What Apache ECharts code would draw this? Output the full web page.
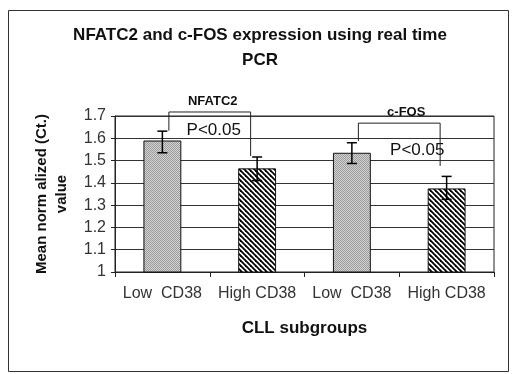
<!DOCTYPE html>
<html>
<head>
<meta charset="UTF-8"/>
<script src="https://cdn.jsdelivr.net/npm/echarts@6/dist/echarts.min.js"></script>
<style>
  html, body { margin: 0; padding: 0; background: #fff; }
  #main { width: 520px; height: 374px; }
</style>
</head>
<body>
<div id="main"></div>
<script type="text/javascript">
    // data
    var categories = ['Low  CD38', 'High CD38', 'Low  CD38', 'High CD38'];
    var meanValues = [1.59, 1.465, 1.535, 1.375];
    var errLow = [1.535, 1.41, 1.487, 1.326];
    var errHigh = [1.632, 1.516, 1.58, 1.429];
    var yTicks = [1, 1.1, 1.2, 1.3, 1.4, 1.5, 1.6, 1.7];
    // brackets: [from category, to category, bracket level, left end, right end]
    var brackets = [[0, 1, 1.718, 1.634, 1.52], [2, 3, 1.668, 1.588, 1.476]];
    var bracketNames = ['NFATC2', 'c-FOS'];
    var pLabels = ['P<0.05', 'P<0.05'];

    // fill patterns
    function dotPattern() {
        var c = document.createElement('canvas');
        c.width = 2; c.height = 2;
        var ctx = c.getContext('2d');
        ctx.fillStyle = '#d4d4d4';
        ctx.fillRect(0, 0, 2, 2);
        ctx.fillStyle = '#9a9a9a';
        ctx.fillRect(0, 0, 1, 1);
        ctx.fillRect(1, 1, 1, 1);
        return c;
    }
    function hatchPattern() {
        var s = 5;
        var c = document.createElement('canvas');
        c.width = s; c.height = s;
        var ctx = c.getContext('2d');
        ctx.fillStyle = '#fff';
        ctx.fillRect(0, 0, s, s);
        ctx.strokeStyle = '#000';
        ctx.lineWidth = 1.8;
        for (var k = -s; k <= s; k += s) {
            ctx.beginPath();
            ctx.moveTo(k - 1, -1);
            ctx.lineTo(k + s + 1, s + 1);
            ctx.stroke();
        }
        return c;
    }
    var dots = {image: dotPattern(), repeat: 'repeat'};
    var hatch = {image: hatchPattern(), repeat: 'repeat'};

    var barData = meanValues.map(function (v, i) {
        return {value: v, itemStyle: {color: i % 2 === 0 ? dots : hatch}};
    });
    var errData = meanValues.map(function (v, i) {
        return [i, errLow[i], errHigh[i]];
    });

    var myChart = echarts.init(document.getElementById('main'));
    var option = {
        backgroundColor: '#fff',
        animation: false,
        title: {
            text: 'NFATC2 and c-FOS expression using real time\nPCR',
            left: 'center',
            top: 18,
            textStyle: {
                fontFamily: 'Arial, Liberation Sans',
                fontSize: 17,
                fontWeight: 'bold',
                color: '#111',
                lineHeight: 25
            }
        },
        graphic: [{
            type: 'rect',
            shape: {x: 8.5, y: 10.5, width: 500, height: 361},
            style: {fill: 'none', stroke: '#333', lineWidth: 1},
            z: -1
        }],
        grid: {
            left: 115,
            right: 26,
            top: 116,
            bottom: 102,
            show: true,
            borderColor: '#222',
            borderWidth: 1
        },
        xAxis: {
            type: 'category',
            data: categories,
            name: 'CLL subgroups',
            nameLocation: 'middle',
            nameGap: 48,
            nameTextStyle: {
                fontFamily: 'Arial, Liberation Sans',
                fontSize: 17,
                fontWeight: 'bold',
                color: '#111'
            },
            axisLine: {lineStyle: {color: '#222', width: 1}},
            axisTick: {show: true, length: 5, lineStyle: {color: '#222'}},
            axisLabel: {
                interval: 0,
                margin: 14,
                fontFamily: 'Arial, Liberation Sans',
                fontSize: 16,
                color: '#333'
            }
        },
        yAxis: {
            type: 'value',
            min: 1,
            max: 1.7,
            interval: 0.1,
            name: 'Mean norm alized (Ct.)\nvalue',
            nameLocation: 'middle',
            nameRotate: 90,
            nameGap: 43,
            nameTextStyle: {
                fontFamily: 'Arial, Liberation Sans',
                fontSize: 15,
                fontWeight: 'bold',
                color: '#111',
                lineHeight: 20,
                padding: [0, 0, 0, 0]
            },
            axisLine: {show: true, lineStyle: {color: '#222', width: 1}},
            axisTick: {show: true, length: 4, lineStyle: {color: '#222'}},
            axisLabel: {
                margin: 9,
                fontFamily: 'Arial, Liberation Sans',
                fontSize: 16,
                color: '#333',
                formatter: function (v) {
                    var r = Math.round(v * 10) / 10;
                    return yTicks.indexOf(r) >= 0 ? String(r) : '';
                }
            },
            splitLine: {show: true, lineStyle: {color: '#333', width: 1}}
        },
        series: [
            {
                type: 'bar',
                data: barData,
                barWidth: '40%',
                itemStyle: {borderColor: '#111', borderWidth: 1}
            },
            {
                // error bars
                type: 'custom',
                data: errData,
                z: 5,
                renderItem: function (params, api) {
                    var x = api.coord([api.value(0), api.value(1)])[0];
                    var lo = api.coord([api.value(0), api.value(1)])[1];
                    var hi = api.coord([api.value(0), api.value(2)])[1];
                    var w = 5;
                    var st = {stroke: '#000', lineWidth: 1.5};
                    return {
                        type: 'group',
                        children: [
                            {type: 'line', shape: {x1: x, y1: lo, x2: x, y2: hi}, style: st},
                            {type: 'line', shape: {x1: x - w, y1: lo, x2: x + w, y2: lo}, style: st},
                            {type: 'line', shape: {x1: x - w, y1: hi, x2: x + w, y2: hi}, style: st}
                        ]
                    };
                }
            },
            {
                // significance brackets with labels
                type: 'custom',
                data: brackets,
                z: 6,
                renderItem: function (params, api) {
                    var i = params.dataIndex;
                    var off = 6.5;
                    var xa = api.coord([api.value(0), 0])[0] + off;
                    var xb = api.coord([api.value(1), 0])[0] - off;
                    var yTop = api.coord([0, api.value(2)])[1];
                    var yA = api.coord([0, api.value(3)])[1];
                    var yB = api.coord([0, api.value(4)])[1];
                    var mid = (xa + xb) / 2;
                    return {
                        type: 'group',
                        children: [
                            {
                                type: 'polyline',
                                shape: {points: [[xa, yA], [xa, yTop], [xb, yTop], [xb, yB]]},
                                style: {fill: 'none', stroke: '#222', lineWidth: 1}
                            },
                            {
                                type: 'text',
                                x: mid + (i === 0 ? 3 : 7),
                                y: yTop - 4,
                                style: {
                                    text: bracketNames[i],
                                    fontFamily: 'Arial, Liberation Sans',
                                    fontSize: 13,
                                    fontWeight: 'bold',
                                    fill: '#111',
                                    align: 'center',
                                    verticalAlign: 'bottom'
                                }
                            },
                            {
                                type: 'text',
                                x: mid + (i === 0 ? 4 : 18),
                                y: yTop + (i === 0 ? 18 : 27),
                                style: {
                                    text: pLabels[i],
                                    fontFamily: 'Arial, Liberation Sans',
                                    fontSize: 17,
                                    fill: '#111',
                                    align: 'center',
                                    verticalAlign: 'middle'
                                }
                            }
                        ]
                    };
                }
            }
        ]
    };
    myChart.setOption(option);
</script>
</body>
</html>
